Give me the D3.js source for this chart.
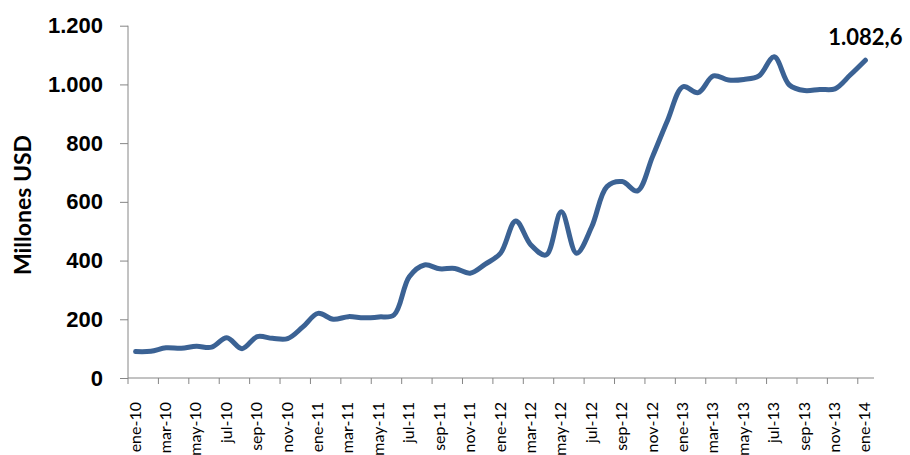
<!DOCTYPE html>
<html>
<head>
<meta charset="utf-8">
<script src="https://cdn.jsdelivr.net/npm/d3@7"></script>
<style>
  body { margin: 0; background: #fff; }
  svg { font-family: Lato, 'Open Sans', sans-serif; }
</style>
</head>
<body>
<div id="chart-container"></div>
<script>
// monthly values, ene-10 .. ene-14 (millones USD)
const months = ['ene', 'feb', 'mar', 'abr', 'may', 'jun', 'jul', 'ago', 'sep', 'oct', 'nov', 'dic'];
const years = ['10', '11', '12', '13', '14'];
const values = [
  90, 91, 103, 101, 108, 105, 137, 100, 141, 135, 134, 174,
  220, 200, 209, 205, 208, 215, 345, 385, 372, 373, 357, 388,
  425, 535, 453, 419, 566, 425, 515, 652, 669, 637, 754, 879,
  992, 972, 1029, 1015, 1017, 1029, 1094, 998, 979, 983, 985, 1032,
  1082.6
];
const yTicks = [0, 200, 400, 600, 800, 1000, 1200];

const categories = [];
years.forEach(function (yr) {
  months.forEach(function (m) {
    if (categories.length < values.length) categories.push(m + '-' + yr);
  });
});

const data = values.map(function (v, i) {
  return { cat: categories[i], value: v, i: i };
});

const svgWidth = 910;
const svgHeight = 455;

const es = d3.formatLocale({ decimal: ',', thousands: '.', grouping: [3], currency: ['', ''] });
const fmtTick = es.format(',.0f');
const fmtLabel = es.format(',.1f');

const svg = d3
  .select('#chart-container')
  .append('svg')
  .attr('width', svgWidth)
  .attr('height', svgHeight);

const xScale = d3
  .scaleBand()
  .domain(categories)
  .range([128, 873])
  .padding(0);

const yScale = d3.scaleLinear().domain([0, 1200]).range([378, 25.7]);

const axisColor = '#868686';

// y axis
const yAxis = d3.axisLeft(yScale).tickValues(yTicks).tickSize(8).tickPadding(17).tickFormat(fmtTick);
const gy = svg.append('g').attr('transform', 'translate(128,0)').call(yAxis);
gy.selectAll('.domain').attr('stroke', axisColor).attr('d', 'M0,' + yScale(1200) + 'V' + yScale(0));
gy.selectAll('line').attr('stroke', axisColor);
gy.selectAll('text')
  .style('font-size', '22px')
  .style('font-weight', '700')
  .attr('fill', '#000');

// x axis - ticks between categories, every second one
const gx = svg.append('g').attr('class', 'x-axis');
gx.append('line')
  .attr('x1', xScale.range()[0])
  .attr('x2', xScale.range()[1] + 1)
  .attr('y1', yScale(0))
  .attr('y2', yScale(0))
  .attr('stroke', axisColor);

const everyOther = data.filter(function (d) { return d.i % 2 === 0; });

gx.selectAll('.tick-mark')
  .data(everyOther)
  .enter()
  .append('line')
  .attr('class', 'tick-mark')
  .attr('x1', (d) => xScale(d.cat))
  .attr('x2', (d) => xScale(d.cat))
  .attr('y1', yScale(0))
  .attr('y2', yScale(0) + 6)
  .attr('stroke', axisColor);

gx.selectAll('.x-label')
  .data(everyOther)
  .enter()
  .append('text')
  .attr('class', 'x-label')
  .attr('transform', (d) => 'translate(' + (xScale(d.cat) + xScale.bandwidth() / 2 + 5) + ',' + 402 + ') rotate(-90)')
  .attr('text-anchor', 'end')
  .style('font-size', '16px')
  .attr('fill', '#000')
  .text((d) => d.cat);

// axis title
svg
  .append('text')
  .attr('transform', 'translate(31,' + 205 + ') rotate(-90)')
  .attr('text-anchor', 'middle')
  .style('font-size', '23px')
  .style('font-weight', '700')
  .text('Millones USD');

// line
const line = d3
  .line()
  .x((d) => xScale(d.cat) + xScale.bandwidth() / 2)
  .y((d) => yScale(d.value))
  .curve(d3.curveCatmullRom.alpha(0.5));

svg
  .append('path')
  .datum(data)
  .attr('fill', 'none')
  .attr('stroke', '#3b6294')
  .attr('stroke-width', 5)
  .attr('stroke-linecap', 'round')
  .attr('stroke-linejoin', 'round')
  .attr('d', line);

// last value label
const last = data[data.length - 1];
svg
  .append('text')
  .attr('x', xScale(last.cat) + xScale.bandwidth() / 2)
  .attr('y', yScale(last.value) - 15)
  .attr('text-anchor', 'middle')
  .style('font-size', '22px')
  .style('font-weight', '700')
  .text(fmtLabel(last.value));
</script>
</body>
</html>
